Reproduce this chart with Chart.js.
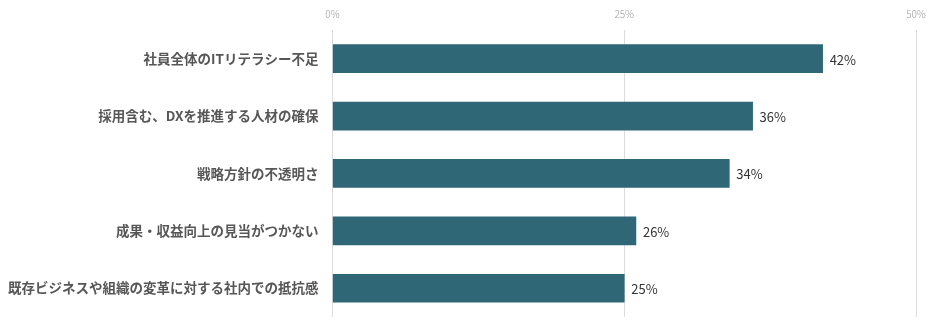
<!DOCTYPE html>
<html>
<head>
<meta charset="utf-8">
<script src="https://cdn.jsdelivr.net/npm/chart.js@4"></script>
<style>
  html, body { margin: 0; padding: 0; background: #fff; }
  #wrap { width: 940px; height: 331px; position: relative; }
</style>
</head>
<body>
<div id="wrap"><canvas id="c"></canvas></div>
<script>
// DX推進における課題（複数回答）
const categories = [
  '社員全体のITリテラシー不足',
  '採用含む、DXを推進する人材の確保',
  '戦略方針の不透明さ',
  '成果・収益向上の見当がつかない',
  '既存ビジネスや組織の変革に対する社内での抵抗感'
];
const values = [42, 36, 34, 26, 25];
const tickLabels = ['0%', '25%', '50%'];

const JP = '"Noto Sans CJK JP", "Noto Sans", sans-serif';

// Writes each bar's percentage just past its end
const valueLabels = {
  id: 'valueLabels',
  afterDatasetsDraw(chart) {
    const ctx = chart.ctx;
    const meta = chart.getDatasetMeta(0);
    ctx.save();
    ctx.font = '13px ' + JP;
    ctx.fillStyle = '#333333';
    ctx.textAlign = 'left';
    ctx.textBaseline = 'middle';
    meta.data.forEach((bar, i) => {
      ctx.fillText(values[i] + '%', bar.x + 7, bar.y + 1);
    });
    ctx.restore();
  }
};

new Chart(document.getElementById('c'), {
  type: 'bar',
  data: {
    labels: categories,
    datasets: [{
      data: values,
      backgroundColor: '#2f6777',
      borderWidth: 0,
      barThickness: 28
    }]
  },
  options: {
    indexAxis: 'y',
    responsive: true,
    maintainAspectRatio: false,
    animation: false,
    layout: { padding: { top: 0, right: 24, bottom: 7, left: 0 } },
    plugins: {
      legend: { display: false },
      tooltip: { enabled: false }
    },
    scales: {
      x: {
        position: 'top',
        min: 0,
        max: 50,
        afterBuildTicks(axis) {
          axis.ticks = [0, 25, 50].map(v => ({ value: v }));
        },
        afterFit(axis) { axis.height = 30; },
        ticks: {
          callback: (v, i) => tickLabels[i],
          color: '#9a9a9a',
          font: { family: JP, size: 10, weight: '300' },
          padding: 10,
          maxRotation: 0
        },
        grid: { color: '#dcdcdc', lineWidth: 1, drawTicks: false },
        border: { display: false }
      },
      y: {
        afterFit(axis) { axis.width = 332.5; },
        ticks: {
          color: '#575757',
          font: { family: JP, size: 13.5, weight: 'bold' },
          padding: 6
        },
        grid: { display: false },
        border: { display: false }
      }
    }
  },
  plugins: [valueLabels]
});
</script>
</body>
</html>
